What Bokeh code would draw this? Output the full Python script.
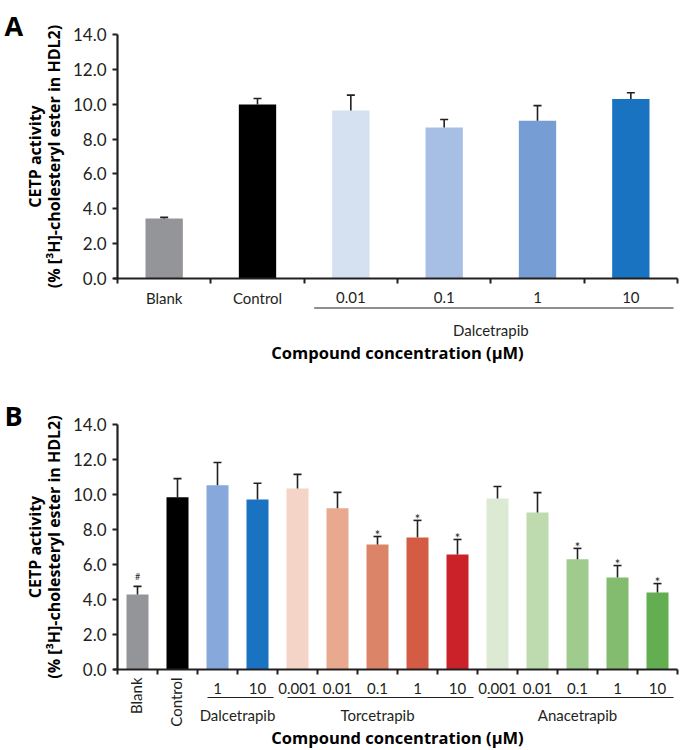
import numpy as np
from bokeh.plotting import figure
from bokeh.models import Range1d, FixedTicker, ColumnDataSource, PrintfTickFormatter
from bokeh.layouts import column
from bokeh.core.properties import value
from bokeh.embed import file_html
from bokeh.resources import INLINE

# ---------------- data ----------------
y_ticks = [0, 2, 4, 6, 8, 10, 12, 14]

a_labels = ["Blank", "Control", "0.01", "0.1", "1", "10"]
a_values = [3.44, 9.98, 9.64, 8.66, 9.05, 10.30]
a_errors = [0.07, 0.35, 0.88, 0.46, 0.87, 0.36]
a_colors = ["#939598", "#000000", "#d5e0f1", "#a8bfe5", "#769dd4", "#1a73c0"]
a_marks = ["", "", "", "", "", ""]
a_rotated = [False, False, False, False, False, False]
a_groups = ["Dalcetrapib"]
a_group_start = [2]
a_group_end = [6]

b_labels = ["Blank", "Control", "1", "10", "0.001", "0.01", "0.1", "1", "10",
            "0.001", "0.01", "0.1", "1", "10"]
b_values = [4.29, 9.85, 10.53, 9.72, 10.35, 9.22, 7.14, 7.55, 6.57,
            9.77, 8.97, 6.30, 5.26, 4.40]
b_errors = [0.46, 1.06, 1.30, 0.92, 0.80, 0.90, 0.46, 0.97, 0.86,
            0.69, 1.14, 0.62, 0.68, 0.51]
b_colors = ["#939598", "#000000", "#87a8da", "#1a73c0",
            "#f3d4c6", "#e9a98e", "#dc8468", "#d55c44", "#cb2229",
            "#dcead4", "#bedbb0", "#9fcb8e", "#83bc6f", "#62ae50"]
b_marks = ["#", "", "", "", "", "", "*", "*", "*", "", "", "*", "*", "*"]
b_rotated = [True, True] + [False] * 12
b_groups = ["Dalcetrapib", "Torcetrapib", "Anacetrapib"]
b_group_start = [2, 4, 9]
b_group_end = [4, 9, 14]

y_title_1 = "CETP activity"
y_title_2 = "(% [³H]-cholesteryl ester in HDL2)"
x_title = "Compound concentration (μM)"

FONT = "Lato"
BFONT = "Open Sans"
TXT = "#231f20"
W = 680
AXIS_X = 117      # pixel column of the y axis
RIGHT_PAD = 3


def panel(letter, labels, values, errors, colors, marks, rotated,
          groups, gstart, gend, height, top_px, zero_px, bar_frac,
          lab_px, line_px, glab_px, title_px, rot_px):
    n = len(labels)
    ppu_x = (W - AXIS_X - RIGHT_PAD) / n
    ppu_y = (zero_px - top_px) / 14.0

    def dy(px):
        return px / ppu_y

    def dx(px):
        return px / ppu_x

    x_range = Range1d(-dx(AXIS_X), n + dx(RIGHT_PAD))
    y_range = Range1d(-dy(height - zero_px), 14 + dy(top_px))

    p = figure(width=W, height=height, x_range=x_range, y_range=y_range,
               output_backend="svg", toolbar_location=None,
               min_border_left=0, min_border_right=0,
               min_border_top=0, min_border_bottom=0, outline_line_color=None,
               background_fill_color="white", border_fill_color="white")
    p.grid.visible = False

    ax = p.yaxis[0]
    ax.fixed_location = 0
    ax.ticker = FixedTicker(ticks=y_ticks)
    ax.formatter = PrintfTickFormatter(format="%.1f")
    ax.bounds = (0, 14)
    ax.axis_line_width = 2.2
    ax.axis_line_color = TXT
    ax.major_tick_line_width = 2
    ax.major_tick_line_color = TXT
    ax.major_tick_out = 5
    ax.major_tick_in = 0
    ax.minor_tick_out = 0
    ax.minor_tick_in = 0
    ax.major_label_standoff = 6
    ax.major_label_text_font = FONT
    ax.major_label_text_font_size = "17px"
    ax.major_label_text_color = TXT

    xa = p.xaxis[0]
    xa.fixed_location = 0
    xa.ticker = FixedTicker(ticks=list(range(n + 1)))
    xa.bounds = (-dx(4), n)
    xa.axis_line_width = 2.2
    xa.axis_line_color = TXT
    xa.major_tick_line_width = 2
    xa.major_tick_line_color = TXT
    xa.major_tick_out = 5
    xa.major_tick_in = 0
    xa.minor_tick_out = 0
    xa.minor_tick_in = 0
    xa.major_label_text_font_size = "0px"
    xa.major_label_text_alpha = 0

    centers = np.arange(n) + 0.5
    vals = np.array(values)
    errs = np.array(errors)
    tops = vals + errs

    src = ColumnDataSource(dict(x=centers, top=vals, err=tops, color=colors,
                                label=labels, mark=marks))
    p.vbar(x="x", top="top", bottom=0, width=bar_frac, fill_color="color",
           line_color=None, source=src)

    # error bars
    cap = dx(4)
    p.segment(x0="x", x1="x", y0="top", y1="err", line_color=TXT, line_width=1.6, source=src)
    p.segment(x0=centers - cap, x1=centers + cap, y0=tops, y1=tops,
              line_color=TXT, line_width=1.6)

    # significance marks
    star_idx = [i for i, m in enumerate(marks) if m == "*"]
    hash_idx = [i for i, m in enumerate(marks) if m == "#"]
    if star_idx:
        p.text(x=centers[star_idx], y=tops[star_idx] + dy(1.5), text=[marks[i] for i in star_idx],
               text_font=value(FONT), text_font_size="13px", text_align="center",
               text_baseline="alphabetic", text_color=TXT)
    if hash_idx:
        p.text(x=centers[hash_idx], y=tops[hash_idx] + dy(10), text=[marks[i] for i in hash_idx],
               text_font=value(FONT), text_font_size="9px", text_align="center",
               text_baseline="alphabetic", text_color=TXT)

    # category labels
    flat = [i for i in range(n) if not rotated[i]]
    rot = [i for i in range(n) if rotated[i]]
    p.text(x=centers[flat], y=np.full(len(flat), -dy(lab_px)), text=[labels[i] for i in flat],
           text_font=value(FONT), text_font_size="15px", text_align="center",
           text_baseline="alphabetic", text_color=TXT)
    if rot:
        p.text(x=centers[rot] - dx(2), y=np.full(len(rot), -dy(rot_px)), text=[labels[i] for i in rot],
               angle=np.pi / 2, text_font=value(FONT), text_font_size="15px", text_align="right",
               text_baseline="middle", text_color=TXT)

    # group lines and names
    gs = np.array(gstart, dtype=float)
    ge = np.array(gend, dtype=float)
    p.segment(x0=gs + dx(10), x1=ge - dx(4), y0=np.full(len(gs), -dy(line_px)),
              y1=np.full(len(gs), -dy(line_px)), line_color=TXT, line_width=1.1)
    p.text(x=(gs + ge) / 2, y=np.full(len(gs), -dy(glab_px)), text=groups,
           text_font=value(FONT), text_font_size="15px", text_align="center",
           text_baseline="alphabetic", text_color=TXT)

    # x title
    p.text(x=[n / 2], y=[-dy(title_px)], text=[x_title], text_font=value(BFONT),
           text_font_size="16.5px", text_font_style="bold", text_align="center",
           text_baseline="alphabetic", text_color="#000000")

    # y title (two lines, rotated)
    p.text(x=[-dx(AXIS_X - 34), -dx(AXIS_X - 53)], y=[7, 7], text=[y_title_1, y_title_2],
           angle=np.pi / 2, text_font=value(BFONT), text_font_size="16px",
           text_font_style="bold", text_align="center", text_baseline="middle",
           text_color="#000000")

    # panel letter
    p.text(x=[-dx(AXIS_X - 4)], y=[14 + dy(9)], text=[letter], text_font=value(BFONT),
           text_font_size="27px", text_font_style="bold", text_align="left",
           text_baseline="alphabetic", text_color="#000000")
    return p


pa = panel("A", a_labels, a_values, a_errors, a_colors, a_marks, a_rotated,
           a_groups, a_group_start, a_group_end, height=376, top_px=34, zero_px=278,
           bar_frac=0.4, lab_px=19, line_px=29.5, glab_px=51, title_px=74, rot_px=8)
pb = panel("B", b_labels, b_values, b_errors, b_colors, b_marks, b_rotated,
           b_groups, b_group_start, b_group_end, height=374, top_px=48, zero_px=293,
           bar_frac=0.55, lab_px=19, line_px=28, glab_px=45, title_px=68, rot_px=8)

layout = column(pa, pb, spacing=0)
open("out.html", "w").write(file_html(layout, INLINE))
